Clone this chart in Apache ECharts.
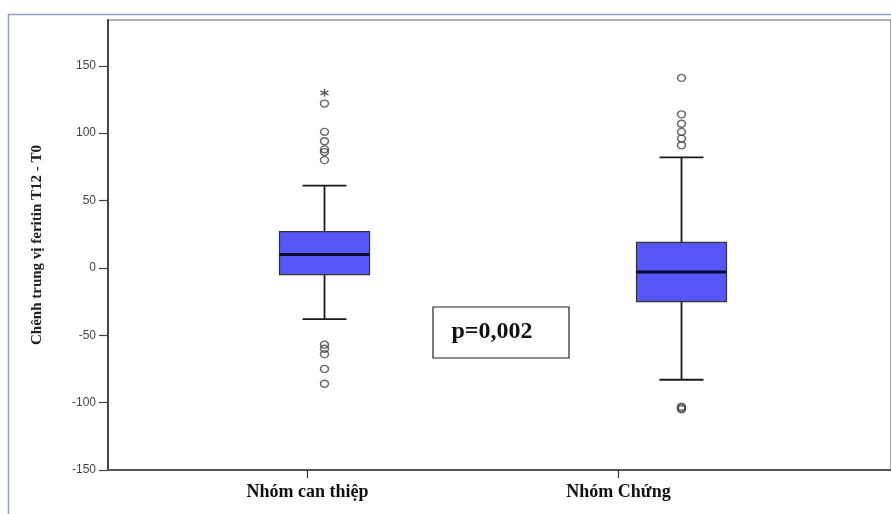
<!DOCTYPE html>
<html><head><meta charset="utf-8">
<script src="https://cdn.jsdelivr.net/npm/echarts@6/dist/echarts.min.js"></script>
<style>html,body{margin:0;padding:0;background:#fff}#c{width:891px;height:514px}</style>
</head><body><div id="c"></div>
<script>
const categories = ['Nhóm can thiệp', 'Nhóm Chứng'];
const whiskerLow = [-38, -83];
const q1 = [-5, -25];
const medians = [10, -3];
const q3 = [27, 19];
const whiskerHigh = [61, 82];
const outliersCanThiep = [122, 101, 94, 88, 86, 80, -57, -60, -64, -75, -86];
const extremesCanThiep = [130];
const outliersChung = [141, 114, 107, 101, 96, 91, -103, -104, -105];
const yTicks = [-150, -100, -50, 0, 50, 100, 150];
const yMin = -150, yMax = 184;
const yName = 'Chênh trung vị feritin T12 - T0';
const pText = 'p=0,002';

const chart = echarts.init(document.getElementById('c'), null, {renderer: 'canvas'});
const gridTop = 20, gridBottom = 44;
const hiddenY = idx => ({type: 'value', gridIndex: idx, min: yMin, max: yMax, show: false});

const boxData = categories.map((c, i) => [i, whiskerLow[i], q1[i], medians[i], q3[i], whiskerHigh[i]]);
const outData = [];
outliersCanThiep.forEach(v => outData.push([0, v]));
outliersChung.forEach(v => outData.push([1, v]));
const extData = extremesCanThiep.map(v => [0, v]);

const option = {
  backgroundColor: '#fff',
  animation: false,
  grid: [
    {left: 108, right: -5, top: gridTop, bottom: gridBottom, show: true, borderColor: '#666', borderWidth: 1.2, backgroundColor: '#fff'},
    {left: 152, width: 622, top: gridTop, bottom: gridBottom},
    {left: 146, width: 714, top: gridTop, bottom: gridBottom}
  ],
  xAxis: [
    {type: 'value', gridIndex: 0, min: 0, max: 1, axisLine: {show: true, onZero: false, lineStyle: {color: '#555', width: 2}}, axisTick: {show: false}, axisLabel: {show: false}, splitLine: {show: false}},
    {type: 'category', gridIndex: 1, data: categories, axisLine: {show: false, onZero: false},
      axisTick: {show: true, alignWithLabel: true, length: 8, lineStyle: {color: '#333', width: 1.2}},
      axisLabel: {margin: 13, color: '#111', fontFamily: 'Liberation Serif', fontWeight: 'bold', fontSize: 18},
      splitLine: {show: false}},
    {type: 'category', gridIndex: 2, data: categories, show: false}
  ],
  yAxis: [
    {type: 'value', gridIndex: 0, min: yMin, max: yMax,
      name: yName, nameLocation: 'middle', nameGap: 63,
      nameTextStyle: {fontFamily: 'Liberation Serif', fontWeight: 'bold', fontSize: 15, color: '#222'},
      axisLine: {show: true, lineStyle: {color: '#444', width: 2}},
      axisTick: {show: true, length: 9, customValues: yTicks, lineStyle: {color: '#444', width: 1.2}},
      axisLabel: {customValues: yTicks, margin: 12, color: '#444', fontFamily: 'Liberation Sans', fontSize: 12},
      splitLine: {show: false}},
    hiddenY(1),
    hiddenY(2)
  ],
  series: [
    {type: 'custom', xAxisIndex: 2, yAxisIndex: 2, data: boxData,
      encode: {x: 0, y: [1, 2, 3, 4, 5]},
      renderItem: function (params, api) {
        const x = api.value(0);
        const c = v => api.coord([x, v]);
        const lo = c(api.value(1)), b1 = c(api.value(2)), md = c(api.value(3)), b3 = c(api.value(4)), hi = c(api.value(5));
        const cx = md[0], half = 45, cap = 22;
        const ls = {stroke: '#1a1a1a', lineWidth: 1.8};
        return {type: 'group', children: [
          {type: 'line', shape: {x1: cx, y1: hi[1], x2: cx, y2: b3[1]}, style: ls},
          {type: 'line', shape: {x1: cx, y1: b1[1], x2: cx, y2: lo[1]}, style: ls},
          {type: 'line', shape: {x1: cx - cap, y1: hi[1], x2: cx + cap, y2: hi[1]}, style: ls},
          {type: 'line', shape: {x1: cx - cap, y1: lo[1], x2: cx + cap, y2: lo[1]}, style: ls},
          {type: 'rect', shape: {x: cx - half, y: b3[1], width: 2 * half, height: b1[1] - b3[1]}, style: {fill: '#5757f7', stroke: '#333', lineWidth: 1.2}},
          {type: 'line', shape: {x1: cx - half, y1: md[1], x2: cx + half, y2: md[1]}, style: {stroke: '#0a0a30', lineWidth: 3}}
        ]};
      }
    },
    {type: 'scatter', xAxisIndex: 2, yAxisIndex: 2, data: outData, symbol: 'circle', symbolSize: [8, 7],
      itemStyle: {color: 'rgba(255,255,255,0)', borderColor: '#444', borderWidth: 1.4}},
    {type: 'scatter', xAxisIndex: 2, yAxisIndex: 2, data: extData,
      symbol: 'path://M5,0L5,10M0.7,2.5L9.3,7.5M0.7,7.5L9.3,2.5', symbolSize: 8,
      itemStyle: {color: 'rgba(0,0,0,0)', borderColor: '#333', borderWidth: 1.4}}
  ],
  graphic: [
    {type: 'polyline', shape: {points: [[8.5, 514], [8.5, 14.5], [891, 14.5]]}, style: {stroke: '#8ea2bd', lineWidth: 1.5, fill: null}, z: 100},
    {type: 'rect', shape: {x: 433, y: 307, width: 136, height: 51}, style: {fill: '#fff', stroke: '#222', lineWidth: 1.2}, z: 100},
    {type: 'text', x: 492, y: 332, style: {text: pText, fontFamily: 'Liberation Serif', fontWeight: 'bold', fontSize: 24, fill: '#111', align: 'center', verticalAlign: 'middle'}, z: 101}
  ]
};
chart.setOption(option);
</script>
</body></html>
